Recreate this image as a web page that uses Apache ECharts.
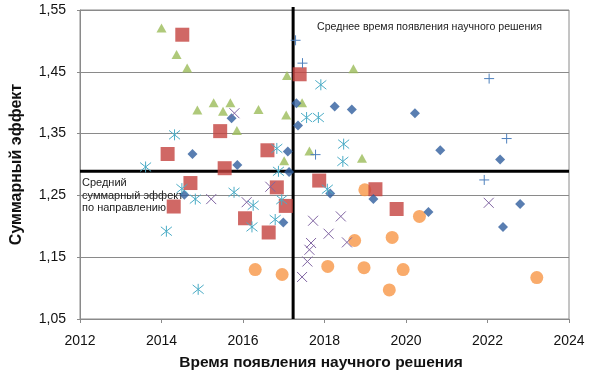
<!DOCTYPE html>
<html>
<head>
<meta charset="utf-8">
<script src="https://cdn.jsdelivr.net/npm/echarts@6/dist/echarts.min.js"></script>
<style>
html,body{margin:0;padding:0;background:#fff;}
#c{width:590px;height:382px;}
</style>
</head>
<body>
<div id="c"></div>
<script>
// ---- data (year of scientific solution, cumulative effect) ----
const xTicks = [2012, 2014, 2016, 2018, 2020, 2022, 2024];
const yTicks = [1.05, 1.15, 1.25, 1.35, 1.45, 1.55];

const diamonds = [
  [2015.72,1.375],[2014.76,1.317],[2017.10,1.321],[2017.31,1.399],[2017.35,1.363],
  [2015.86,1.299],[2018.25,1.394],[2018.67,1.389],[2020.22,1.383],[2020.84,1.323],
  [2022.31,1.308],[2014.56,1.251],[2017.13,1.288],[2018.14,1.253],[2019.20,1.244],
  [2016.99,1.206],[2020.55,1.223],[2022.80,1.236],[2022.38,1.199]
];
const squares = [
  [2014.51,1.510],[2015.44,1.354],[2014.15,1.317],[2016.60,1.323],[2017.39,1.446],
  [2015.55,1.294],[2014.71,1.270],[2014.30,1.232],[2016.05,1.213],[2016.83,1.263],
  [2017.05,1.233],[2016.63,1.190],[2017.87,1.274],[2019.25,1.260],[2019.77,1.228]
];
const triangles = [
  [2014.00,1.521],[2014.37,1.478],[2014.63,1.456],[2014.88,1.388],[2015.28,1.400],
  [2015.69,1.400],[2015.51,1.386],[2015.85,1.355],[2016.38,1.389],[2017.06,1.380],
  [2017.08,1.444],[2017.45,1.400],[2018.71,1.455],[2017.63,1.322],[2017.01,1.306],
  [2018.92,1.310]
];
const crosses = [
  [2015.79,1.383],[2015.22,1.244],[2016.09,1.239],[2016.67,1.264],[2017.72,1.209],
  [2018.40,1.216],[2018.10,1.188],[2017.67,1.173],[2017.63,1.162],[2017.58,1.143],
  [2017.45,1.118],[2018.55,1.174],[2022.03,1.238]
];
const asterisks = [
  [2014.32,1.348],[2013.61,1.296],[2017.91,1.429],[2017.56,1.376],[2017.85,1.376],
  [2016.83,1.326],[2018.47,1.333],[2018.45,1.305],[2014.50,1.261],[2014.83,1.244],
  [2015.78,1.255],[2016.25,1.234],[2016.22,1.199],[2016.79,1.211],[2016.87,1.289],
  [2016.95,1.243],[2014.12,1.192],[2014.90,1.098],[2018.07,1.260]
];
const circles = [
  [2016.30,1.130],[2016.96,1.122],[2018.08,1.135],[2018.97,1.133],[2019.93,1.130],
  [2019.59,1.097],[2018.74,1.177],[2019.66,1.182],[2018.99,1.259],[2020.33,1.216],
  [2023.21,1.117]
];
const pluses = [
  [2017.29,1.501],[2017.46,1.464],[2017.78,1.316],[2022.04,1.439],[2022.47,1.342],
  [2021.92,1.275]
];
const meanYear = 2017.23;
const meanEffect = 1.289;

const xTitle = 'Время появления научного решения';
const yTitle = 'Суммарный эффект';
const meanYearLabel = 'Среднее время появления научного решения';
const meanEffectLabel = 'Средний\nсуммарный эффект\nпо направлению';

// ---- chart ----
const FONT = 'Arial, "Liberation Sans", sans-serif';
const chart = echarts.init(document.getElementById('c'), null, {renderer:'canvas'});

function stroked(name, data, path, size, color, w) {
  return {
    name, type:'scatter', data, symbol:path, symbolSize:size, z:4,
    itemStyle:{color:'rgba(0,0,0,0)', borderColor:color, borderWidth:w, opacity:1},
    emphasis:{disabled:true}
  };
}

chart.setOption({
  animation:false,
  backgroundColor:'#fff',
  grid:{left:80, right:21, top:10, bottom:63, containLabel:false, outerBoundsMode:'none',
    show:true, borderColor:'#8a8a8a', borderWidth:1, backgroundColor:'transparent'},
  xAxis:{
    type:'value', min:xTicks[0], max:xTicks[xTicks.length-1], interval:2,
    axisLine:{show:true, onZero:false, lineStyle:{color:'#8a8a8a', width:1}},
    axisTick:{show:true, length:4, lineStyle:{color:'#8a8a8a'}},
    splitLine:{show:false},
    axisLabel:{color:'#111', fontFamily:FONT, fontSize:14, margin:15, formatter:v=>String(Math.round(v))}
  },
  yAxis:{
    type:'value', min:yTicks[0], max:yTicks[yTicks.length-1], interval:0.1,
    axisLine:{show:true, onZero:false, lineStyle:{color:'#8a8a8a', width:1}},
    axisTick:{show:true, length:3, lineStyle:{color:'#8a8a8a'}},
    splitLine:{show:true, lineStyle:{color:'#8a8a8a', width:1}},
    axisLabel:{color:'#111', fontFamily:FONT, fontSize:14, margin:14, formatter:v=>v.toFixed(2).replace('.',',')},
    name:yTitle, nameLocation:'middle', nameGap:55,
    nameTextStyle:{fontFamily:FONT, fontSize:16, fontWeight:'bold', color:'#111'}
  },
  graphic:[
    {type:'text', x:321, y:363, z:1, style:{text:xTitle, font:'bold 15.5px '+FONT, fill:'#111', textAlign:'center', textVerticalAlign:'middle'}},
    {type:'text', x:317, y:27, z:1, style:{text:meanYearLabel, font:'10.6px '+FONT, fill:'#222', textAlign:'left', textVerticalAlign:'middle'}},
    {type:'text', x:82, y:177, z:1, style:{text:meanEffectLabel, font:'11px '+FONT, fill:'#222', textAlign:'left', textVerticalAlign:'top', lineHeight:12.5}}
  ],
  series:[
    {type:'line', data:[[meanYear, yTicks[0]],[meanYear, yTicks[yTicks.length-1]+0.005]], symbol:'none', clip:false, z:1,
      lineStyle:{color:'#000', width:3}, silent:true},
    {type:'line', data:[[xTicks[0], meanEffect],[xTicks[xTicks.length-1], meanEffect]], symbol:'none', z:1,
      lineStyle:{color:'#000', width:3}, silent:true},
    {name:'circles', type:'scatter', data:circles, symbol:'circle', symbolSize:13, z:3, itemStyle:{color:'#F79646'}},
    {name:'squares', type:'scatter', data:squares, symbol:'rect', symbolSize:14, z:3, itemStyle:{color:'#C4423E'}},
    {name:'triangles', type:'scatter', data:triangles, symbol:'triangle', symbolSize:[10,9], z:3, itemStyle:{color:'#9BBB59'}},
    {name:'diamonds', type:'scatter', data:diamonds, symbol:'diamond', symbolSize:[10,10], z:3, itemStyle:{color:'#2F5E9E'}},
    stroked('crosses', crosses, 'path://M0,0L10,10M10,0L0,10', 10, '#8064A2', 1),
    stroked('asterisks', asterisks, 'path://M0,1L10,9M10,1L0,9M5,0L5,10', 11, '#4BACC6', 1),
    stroked('pluses', pluses, 'path://M5,0L5,10M0,5L10,5', 10, '#4F81BD', 1)
  ]
});
</script>
</body>
</html>
